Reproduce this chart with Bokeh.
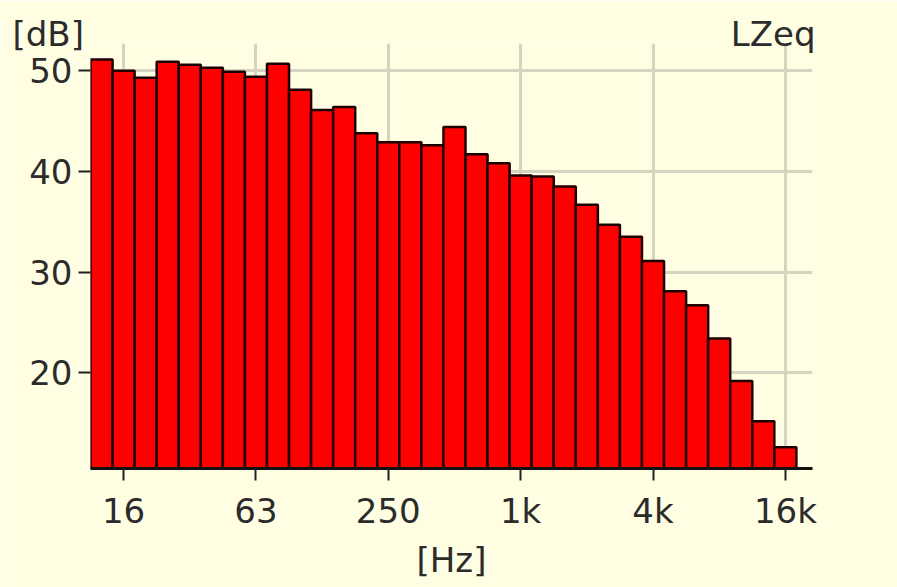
from bokeh.plotting import figure
from bokeh.models import FixedTicker, Range1d, Label, ColumnDataSource
from bokeh.embed import file_html
from bokeh.resources import INLINE

bands = ["12.5", "16", "20", "25", "31.5", "40", "50", "63", "80", "100",
         "125", "160", "200", "250", "315", "400", "500", "630", "800", "1k",
         "1.25k", "1.6k", "2k", "2.5k", "3.15k", "4k", "5k", "6.3k", "8k", "10k",
         "12.5k", "16k"]
levels = [51.1, 50.0, 49.3, 50.9, 50.6, 50.3, 49.9, 49.4, 50.7, 48.1,
          46.1, 46.4, 43.8, 42.9, 42.9, 42.6, 44.4, 41.7, 40.8, 39.6,
          39.5, 38.5, 36.7, 34.7, 33.5, 31.1, 28.1, 26.7, 23.4, 19.2,
          15.2, 12.6]
x_tick_bands = ["16", "63", "250", "1k", "4k", "16k"]
y_ticks = [20, 30, 40, 50]

idx = list(range(len(bands)))
src = ColumnDataSource(dict(x=idx, top=levels, band=bands))

BG = "#FFFEE3"
TXT = "#2b2b2b"
FONT = "DejaVu Sans"

p = figure(width=897, height=587, output_backend="svg", toolbar_location=None,
           x_range=Range1d(-0.5, 32.23), y_range=Range1d(10.5, 52.7),
           min_border_left=90, min_border_right=82, min_border_top=43,
           min_border_bottom=119)
p.background_fill_color = BG
p.border_fill_color = BG
p.outline_line_color = None

p.vbar(x="x", top="top", bottom=0, width=1.0, source=src,
       fill_color="#FF0000", line_color="#1e0000", line_width=2.5)

tick_pos = [bands.index(b) for b in x_tick_bands]
p.xaxis.ticker = FixedTicker(ticks=tick_pos)
p.xaxis.major_label_overrides = {i: b for i, b in zip(tick_pos, x_tick_bands)}
p.yaxis.ticker = FixedTicker(ticks=y_ticks)

for ax in (p.xaxis, p.yaxis):
    ax.major_label_text_font = FONT
    ax.major_label_text_font_size = "34px"
    ax.major_label_text_color = TXT
    ax.minor_tick_line_color = None
    ax.major_tick_in = 0
    ax.major_tick_line_color = "#222222"
    ax.major_tick_line_width = 2

p.xaxis.major_tick_out = 12
p.xaxis.major_label_standoff = 10
p.xaxis.axis_line_color = "#111111"
p.xaxis.axis_line_width = 3
p.xaxis.axis_label = "[Hz]"
p.xaxis.axis_label_text_font = FONT
p.xaxis.axis_label_text_font_size = "34px"
p.xaxis.axis_label_text_font_style = "normal"
p.xaxis.axis_label_text_color = TXT
p.xaxis.axis_label_standoff = 6

p.yaxis.major_tick_out = 12
p.yaxis.major_label_standoff = 6
p.yaxis.axis_line_color = None

p.grid.grid_line_color = "#D6D3C0"
p.grid.grid_line_width = 3

p.add_layout(Label(x=-78, y=10, x_units="screen", y_units="screen", text="[dB]",
                   text_font=FONT, text_font_size="34px", text_color=TXT,
                   text_baseline="middle", text_align="left"), "above")
p.add_layout(Label(x=3, y=435, x_units="screen", y_units="screen", text="LZeq",
                   text_font=FONT, text_font_size="34px", text_color=TXT,
                   text_baseline="middle", text_align="right"), "right")

open("out.html", "w").write(file_html(p, INLINE))
